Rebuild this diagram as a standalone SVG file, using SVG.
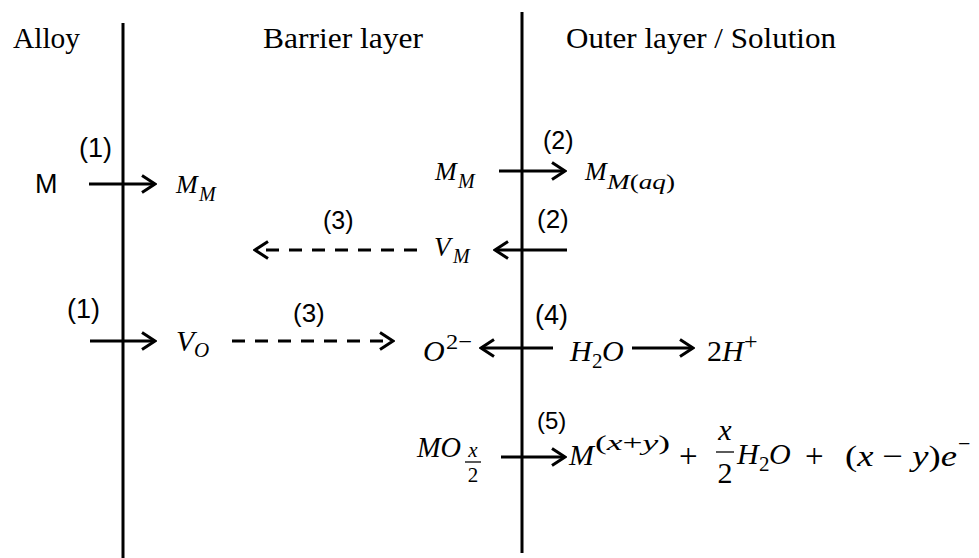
<svg xmlns="http://www.w3.org/2000/svg" width="979" height="558" viewBox="0 0 979 558">
<style>
.t{font-family:"Liberation Serif","Times New Roman",serif;font-size:30px;fill:#000}
.l{font-family:"Liberation Sans",Arial,sans-serif;fill:#000}
.m{font-family:"Liberation Serif","Times New Roman",serif;font-style:italic;fill:#000}
.u{font-style:normal}
.c{stroke:#000;stroke-width:3;fill:none}
.d{stroke-dasharray:13 10}
.b{stroke:#000;stroke-width:1.3}
</style>
<defs>
<marker id="ah" viewBox="-16 -10 18 20" refX="0" refY="0" markerWidth="18" markerHeight="20" markerUnits="userSpaceOnUse" orient="auto">
<path d="M-13,-8.5 L0,0 L-13,8.5" fill="none" stroke="#000" stroke-width="3"/>
</marker>
</defs>
<rect width="979" height="558" fill="#fff"/>
<g id="boundaries">
<line class="c" x1="123" y1="23" x2="123" y2="558"/>
<line class="c" x1="522" y1="12" x2="522" y2="553"/>
</g>
<g id="titles">
<text class="t" x="13" y="48" textLength="67" lengthAdjust="spacingAndGlyphs">Alloy</text>
<text class="t" x="263" y="48" textLength="160" lengthAdjust="spacingAndGlyphs">Barrier layer</text>
<text class="t" x="566" y="48" textLength="270" lengthAdjust="spacingAndGlyphs">Outer layer / Solution</text>
</g>
<g id="connectors">
<line class="c" x1="89" y1="184" x2="155" y2="184" marker-end="url(#ah)"/>
<line class="c" x1="499" y1="171" x2="565" y2="171" marker-end="url(#ah)"/>
<line class="c d" x1="417" y1="250" x2="255" y2="250" marker-end="url(#ah)"/>
<line class="c" x1="567" y1="250" x2="495" y2="250" marker-end="url(#ah)"/>
<line class="c" x1="90" y1="341" x2="155" y2="341" marker-end="url(#ah)"/>
<line class="c d" x1="232" y1="341" x2="393" y2="341" marker-end="url(#ah)"/>
<line class="c" x1="553" y1="348" x2="481" y2="348" marker-end="url(#ah)"/>
<line class="c" x1="632" y1="348" x2="693" y2="348" marker-end="url(#ah)"/>
<line class="c" x1="501" y1="457" x2="565" y2="457" marker-end="url(#ah)"/>
</g>
<g id="labels">
<text class="l" x="79" y="157" font-size="27">(1)</text>
<text class="l" x="543" y="149" font-size="25">(2)</text>
<text class="l" x="323" y="229" font-size="25">(3)</text>
<text class="l" x="537" y="228" font-size="26">(2)</text>
<text class="l" x="67" y="318" font-size="27">(1)</text>
<text class="l" x="293" y="322" font-size="26">(3)</text>
<text class="l" x="535" y="324" font-size="27">(4)</text>
<text class="l" x="537" y="429" font-size="24">(5)</text>
</g>
<g id="node-M-alloy">
<text class="l" x="35" y="193" font-size="27">M</text>
</g>
<g id="node-MM-barrier">
<text class="m" x="176" y="193" font-size="26">M</text>
<text class="m" x="199" y="201" font-size="20">M</text>
</g>
<g id="node-MM-interface">
<text class="m" x="435" y="180" font-size="26">M</text>
<text class="m" x="458" y="188" font-size="20">M</text>
</g>
<g id="node-MMaq">
<text class="m" x="585" y="180" font-size="26">M</text>
<text class="m" x="607" y="189" font-size="20" textLength="68" lengthAdjust="spacingAndGlyphs">M<tspan class="u">(</tspan>aq<tspan class="u">)</tspan></text>
</g>
<g id="node-VM">
<text class="m" x="434" y="256" font-size="27">V</text>
<text class="m" x="453" y="263" font-size="20">M</text>
</g>
<g id="node-VO">
<text class="m" x="176" y="351" font-size="30">V</text>
<text class="m" x="194" y="357" font-size="21">O</text>
</g>
<g id="node-O2">
<text class="m" x="423" y="361" font-size="30">O</text>
<text class="m u" x="446" y="349" font-size="22" textLength="26" lengthAdjust="spacingAndGlyphs">2−</text>
</g>
<g id="node-H2O">
<text class="m" x="570" y="361" font-size="30">H</text>
<text class="m u" x="592" y="368" font-size="21">2</text>
<text class="m" x="602" y="361" font-size="30">O</text>
</g>
<g id="node-2H">
<text class="m u" x="707" y="361" font-size="30">2</text>
<text class="m" x="722" y="361" font-size="30">H</text>
<text class="m u" x="744" y="349" font-size="24">+</text>
</g>
<g id="node-MOx2">
<text class="m" x="417" y="457" font-size="30" textLength="44" lengthAdjust="spacingAndGlyphs">MO</text>
<text class="m" x="473" y="457" font-size="21" text-anchor="middle">x</text>
<line class="b" x1="465" y1="462" x2="481" y2="462"/>
<text class="m u" x="473" y="482" font-size="21" text-anchor="middle">2</text>
</g>
<g id="node-products">
<text class="m" x="569" y="465" font-size="30">M</text>
<text class="m" x="595" y="450" font-size="22" textLength="75" lengthAdjust="spacingAndGlyphs"><tspan class="u">(</tspan>x<tspan class="u">+</tspan>y<tspan class="u">)</tspan></text>
<text class="m u" x="679" y="467" font-size="33">+</text>
<text class="m" x="725" y="440" font-size="30" text-anchor="middle">x</text>
<line class="b" x1="716" y1="452" x2="734" y2="452"/>
<text class="m u" x="725" y="483" font-size="30" text-anchor="middle">2</text>
<text class="m" x="737" y="464" font-size="30">H</text>
<text class="m u" x="759" y="471" font-size="21">2</text>
<text class="m" x="769" y="464" font-size="30">O</text>
<text class="m u" x="805" y="467" font-size="33">+</text>
<text class="m" x="845" y="466" font-size="30" textLength="112" lengthAdjust="spacingAndGlyphs"><tspan class="u">(</tspan>x <tspan class="u">−</tspan> y<tspan class="u">)</tspan>e</text>
<text class="m u" x="958" y="451" font-size="22">−</text>
</g>
</svg>
